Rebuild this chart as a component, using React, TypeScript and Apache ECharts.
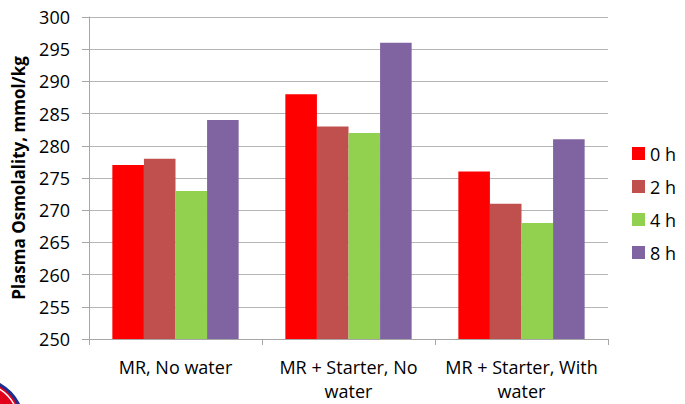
import React, { useEffect, useRef } from "react";
import * as echarts from "echarts";

const categories = ["MR, No water", "MR + Starter, No\nwater", "MR + Starter, With\nwater"];
const seriesNames = ["0 h", "2 h", "4 h", "8 h"];
const values0h = [277, 288, 276];
const values2h = [278, 283, 271];
const values4h = [273, 282, 268];
const values8h = [284, 296, 281];
const colors = ["#FF0000", "#C0504D", "#92D050", "#8064A2"];
const font = "'Open Sans', 'Liberation Sans', sans-serif";

export default function App() {
  const ref = useRef<HTMLDivElement>(null);
  useEffect(() => {
    if (!ref.current) return;
    const chart = echarts.init(ref.current, null, { renderer: "svg" });
    const data = [values0h, values2h, values4h, values8h];
    chart.setOption({
      animation: false,
      backgroundColor: "#FFFFFF",
      textStyle: { fontFamily: font },
      grid: { left: 89, right: 77, top: 17, bottom: 65, containLabel: false },
      legend: {
        orient: "vertical",
        left: 632,
        top: 141,
        padding: 0,
        itemWidth: 13,
        itemHeight: 13,
        itemGap: 8,
        icon: "rect",
        textStyle: { fontSize: 18, color: "#000", fontFamily: font, lineHeight: 25 },
        data: seriesNames,
      },
      xAxis: {
        type: "category",
        data: categories,
        axisLine: { lineStyle: { color: "#A6A6A6", width: 1 } },
        axisTick: { show: true, length: 6, lineStyle: { color: "#A6A6A6" } },
        axisLabel: { fontSize: 18, color: "#000", margin: 16, lineHeight: 24, fontFamily: font, interval: 0 },
      },
      yAxis: {
        type: "value",
        min: 250,
        max: 300,
        interval: 5,
        name: "Plasma Osmolality, mmol/kg",
        nameLocation: "middle",
        nameRotate: 90,
        nameGap: 62,
        nameTextStyle: { fontSize: 17, fontWeight: "bold", color: "#000", fontFamily: font },
        axisLine: { show: true, lineStyle: { color: "#A6A6A6", width: 1 } },
        axisTick: { show: true, length: 7, lineStyle: { color: "#A6A6A6" } },
        splitLine: { lineStyle: { color: "#B5B5B5", width: 1 } },
        axisLabel: { fontSize: 18, color: "#000", margin: 19, fontFamily: font },
      },
      series: data.map((d, i) => ({
        name: seriesNames[i],
        type: "bar",
        data: d,
        barGap: "0%",
        barCategoryGap: "27%",
        itemStyle: { color: colors[i] },
      })),
      graphic: [
        {
          type: "circle",
          shape: { cx: -22, cy: 424, r: 45 },
          style: { fill: "#E3001B", stroke: "#1B2F8F", lineWidth: 3 },
        },
        {
          type: "circle",
          shape: { cx: -22, cy: 424, r: 41 },
          style: { fill: "none", stroke: "#FFFFFF", lineWidth: 1.5 },
        },
      ],
    });
    return () => chart.dispose();
  }, []);
  return <div ref={ref} style={{ position: "fixed", left: 0, top: 0, width: 685, height: 404 }} />;
}
